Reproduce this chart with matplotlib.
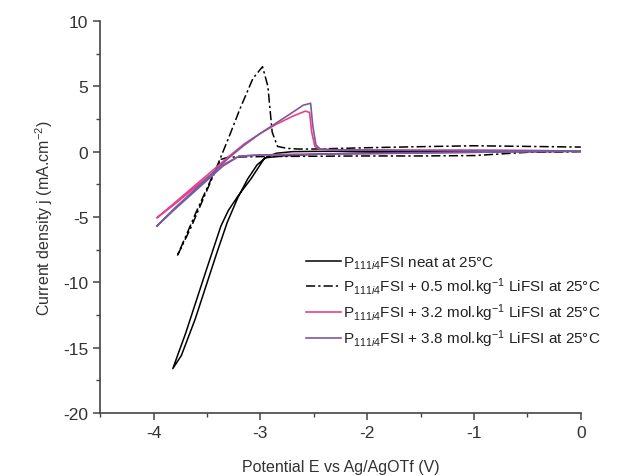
import numpy as np
import matplotlib
matplotlib.use('Agg')
import matplotlib.pyplot as plt
from matplotlib.ticker import MultipleLocator

plt.rcParams['font.family'] = ['Liberation Sans', 'DejaVu Sans']
plt.rcParams['mathtext.fontset'] = 'custom'
plt.rcParams['mathtext.rm'] = 'Liberation Sans'
plt.rcParams['mathtext.it'] = 'Liberation Sans:italic'
plt.rcParams['mathtext.bf'] = 'Liberation Sans:bold'
plt.rcParams['axes.unicode_minus'] = False

# CV loops, potential (V) and current density (mA/cm2), forward then return scan
neat_E = [0, -0.5, -1.0, -1.5, -2.0, -2.5, -2.8, -2.96, -3.09, -3.21, -3.3, -3.37, -3.5, -3.6, -3.7, -3.82,
          -3.74, -3.61, -3.51, -3.41, -3.31, -3.21, -3.12, -3.03, -2.94, -2.85, -2.7, -2.5, -2.0, -1.5, -1.0, -0.5, 0]
neat_j = [0.02, 0.0, -0.03, -0.06, -0.1, -0.2, -0.33, -0.48, -2.1, -3.4, -4.5, -5.7, -8.9, -11.4, -13.9, -16.6,
          -15.6, -12.8, -10.3, -7.8, -5.4, -3.5, -2.1, -1.0, -0.4, -0.12, 0.0, 0.02, 0.03, 0.03, 0.04, 0.05, 0.05]

li05_E = [0, -0.5, -0.8, -1.0, -1.5, -2.0, -2.5, -3.0, -3.3, -3.37, -3.45, -3.55, -3.65, -3.78,
          -3.7, -3.6, -3.5, -3.4, -3.3, -3.19, -3.07, -2.98, -2.93, -2.89, -2.84, -2.75, -2.65, -2.5, -2.0, -1.5, -1.0, -0.5, 0]
li05_j = [0.0, -0.05, -0.2, -0.3, -0.33, -0.33, -0.35, -0.38, -0.42, -0.6, -2.0, -3.9, -5.8, -8.0,
          -6.5, -4.6, -2.8, -1.0, 1.0, 3.3, 5.6, 6.5, 5.0, 1.5, 0.4, 0.25, 0.2, 0.2, 0.3, 0.38, 0.45, 0.4, 0.35]

li32_E = [0, -0.5, -1.0, -1.5, -2.0, -2.5, -3.0, -3.2, -3.35, -3.5, -3.65, -3.8, -3.97,
          -3.8, -3.6, -3.47, -3.3, -3.15, -3.0, -2.85, -2.7, -2.58, -2.54, -2.52, -2.49, -2.45, -2.35, -2.0, -1.5, -1.0, -0.5, 0]
li32_j = [0.05, 0.0, -0.05, -0.1, -0.15, -0.2, -0.25, -0.35, -1.0, -2.0, -3.0, -4.0, -5.07,
          -3.9, -2.5, -1.6, -0.4, 0.6, 1.4, 2.1, 2.7, 3.1, 3.0, 1.5, 0.4, 0.2, 0.15, 0.12, 0.1, 0.1, 0.08, 0.05]

li38_E = [0, -0.5, -1.0, -1.5, -2.0, -2.5, -3.0, -3.2, -3.35, -3.5, -3.65, -3.8, -3.97,
          -3.8, -3.6, -3.47, -3.3, -3.15, -3.0, -2.85, -2.7, -2.6, -2.53, -2.51, -2.48, -2.44, -2.35, -2.0, -1.5, -1.0, -0.5, 0]
li38_j = [0.05, 0.0, -0.05, -0.1, -0.15, -0.2, -0.25, -0.35, -1.1, -2.2, -3.3, -4.4, -5.7,
          -4.3, -2.8, -1.8, -0.5, 0.5, 1.4, 2.2, 3.0, 3.55, 3.7, 2.0, 0.5, 0.2, 0.15, 0.12, 0.1, 0.1, 0.08, 0.05]

labels = [r'P$_{111i4}$FSI neat at 25°C',
          r'P$_{111i4}$FSI + 0.5 mol.kg$^{-1}$ LiFSI at 25°C',
          r'P$_{111i4}$FSI + 3.2 mol.kg$^{-1}$ LiFSI at 25°C',
          r'P$_{111i4}$FSI + 3.8 mol.kg$^{-1}$ LiFSI at 25°C']

fig = plt.figure(figsize=(6.3, 4.77), dpi=100)
ax = fig.add_axes([0.159, 0.132, 0.763, 0.822])

ax.plot(neat_E, neat_j, color='black', lw=1.1, label=labels[0])
ax.plot(li05_E, li05_j, color='black', lw=1.1, ls=(0, (6, 2, 1.5, 2)), label=labels[1])
ax.plot(li32_E, li32_j, color='#e8408a', lw=1.2, label=labels[2])
ax.plot(li38_E, li38_j, color='#7a5aa0', lw=1.2, label=labels[3])

ax.set_xlim(-4.5, 0)
ax.set_ylim(-20, 10)
ax.xaxis.set_major_locator(MultipleLocator(1))
ax.xaxis.set_minor_locator(MultipleLocator(0.5))
ax.yaxis.set_major_locator(MultipleLocator(5))
ax.yaxis.set_minor_locator(MultipleLocator(2.5))
ax.spines['top'].set_visible(False)
ax.spines['right'].set_visible(False)
for s in ['left', 'bottom']:
    ax.spines[s].set_color('#444444')
    ax.spines[s].set_linewidth(1.2)
ax.tick_params(which='major', direction='out', length=5, width=1.1, color='#444444', labelsize=12.5, labelcolor='#333333')
ax.tick_params(which='minor', direction='out', length=3, width=1.0, color='#444444')

ax.set_xlabel('Potential E vs Ag/AgOTf (V)', fontsize=11.5, color='#333333', labelpad=14)
ax.set_ylabel(r'Current density j (mA.cm$^{-2}$)', fontsize=11.5, color='#333333', labelpad=6)

leg = ax.legend(loc='upper left', bbox_to_anchor=(0.415, 0.42), frameon=False, fontsize=11,
                handlelength=2.3, handletextpad=0.15, labelspacing=0.3, borderaxespad=0)
for t in leg.get_texts():
    t.set_color('#222222')

fig.savefig('out.png', dpi=100)
